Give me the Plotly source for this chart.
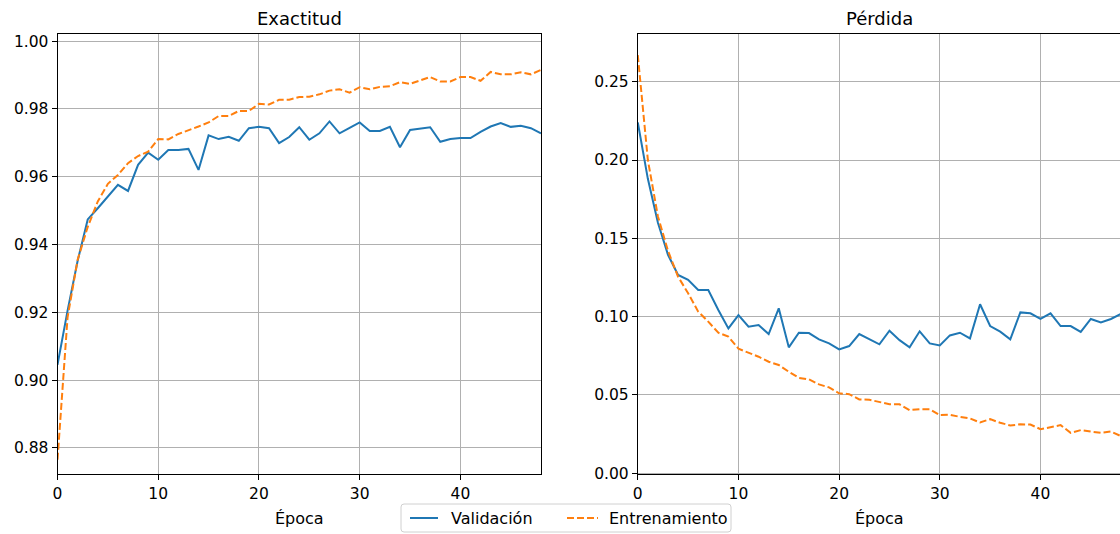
import plotly.graph_objects as go

# Training history per epoch
epochs = list(range(49))

val_acc = [0.9045, 0.9205, 0.9352, 0.9474, 0.9507, 0.9541, 0.9576, 0.9558, 0.9635, 0.9671,
           0.9650, 0.9679, 0.9679, 0.9682, 0.9620, 0.9722, 0.9711, 0.9718, 0.9706, 0.9743,
           0.9747, 0.9743, 0.9699, 0.9717, 0.9746, 0.9709, 0.9728, 0.9763, 0.9728, 0.9744,
           0.9760, 0.9735, 0.9735, 0.9747, 0.9687, 0.9738, 0.9741, 0.9746, 0.9703, 0.9711,
           0.9714, 0.9714, 0.9732, 0.9748, 0.9758, 0.9747, 0.9750, 0.9743, 0.9728]

train_acc = [0.8765, 0.9185, 0.9355, 0.9452, 0.9527, 0.9579, 0.9605, 0.9640, 0.9661, 0.9674,
             0.9711, 0.9710, 0.9726, 0.9736, 0.9748, 0.9760, 0.9779, 0.9779, 0.9794, 0.9794,
             0.9815, 0.9813, 0.9827, 0.9827, 0.9835, 0.9836, 0.9843, 0.9854, 0.9858, 0.9848,
             0.9864, 0.9858, 0.9865, 0.9867, 0.9879, 0.9874, 0.9883, 0.9894, 0.9881, 0.9881,
             0.9894, 0.9894, 0.9883, 0.9909, 0.9902, 0.9902, 0.9908, 0.9902, 0.9915]

val_loss = [0.2240, 0.1880, 0.1600, 0.1395, 0.1266, 0.1235, 0.1170, 0.1170, 0.1042, 0.0925,
            0.1010, 0.0936, 0.0946, 0.0889, 0.1053, 0.0804, 0.0897, 0.0895, 0.0855, 0.0829,
            0.0791, 0.0812, 0.0889, 0.0855, 0.0823, 0.0910, 0.0850, 0.0804, 0.0906, 0.0829,
            0.0816, 0.0880, 0.0897, 0.0861, 0.1079, 0.0940, 0.0904, 0.0855, 0.1027, 0.1021,
            0.0985, 0.1021, 0.0940, 0.0940, 0.0902, 0.0985, 0.0963, 0.0985, 0.1017]

train_loss = [0.2670, 0.2000, 0.1640, 0.1420, 0.1255, 0.1149, 0.1032, 0.0968, 0.0897, 0.0872,
              0.0795, 0.0769, 0.0744, 0.0712, 0.0691, 0.0648, 0.0609, 0.0599, 0.0567, 0.0548,
              0.0510, 0.0505, 0.0471, 0.0469, 0.0456, 0.0441, 0.0440, 0.0403, 0.0409, 0.0409,
              0.0371, 0.0373, 0.0360, 0.0350, 0.0324, 0.0345, 0.0322, 0.0305, 0.0312, 0.0311,
              0.0281, 0.0292, 0.0307, 0.0258, 0.0275, 0.0266, 0.0258, 0.0266, 0.0237]

titles = ["Exactitud", "Pérdida"]
x_label = "Época"
series_names = ["Validación", "Entrenamiento"]

BLUE = "#1f77b4"
ORANGE = "#ff7f0e"
FONT = "DejaVu Sans"
W, H = 1120, 534
DASH = "7px,3px"

fig = go.Figure()

val_line = dict(color=BLUE, width=2)
train_line = dict(color=ORANGE, width=2, dash=DASH)

fig.add_trace(go.Scatter(x=epochs, y=val_acc, mode="lines", line=val_line,
                         name=series_names[0], xaxis="x", yaxis="y"))
fig.add_trace(go.Scatter(x=epochs, y=train_acc, mode="lines", line=train_line,
                         name=series_names[1], xaxis="x", yaxis="y"))
fig.add_trace(go.Scatter(x=epochs, y=val_loss, mode="lines", line=val_line,
                         name=series_names[0], xaxis="x2", yaxis="y2"))
fig.add_trace(go.Scatter(x=epochs, y=train_loss, mode="lines", line=train_line,
                         name=series_names[1], xaxis="x2", yaxis="y2"))

y_dom = [(H - 474.3) / H, (H - 34) / H]
tickfont = dict(family=FONT, size=15.5, color="black")

common_axis = dict(showline=True, linecolor="black", linewidth=1,
                   ticks="outside", ticklen=5, tickwidth=1, tickcolor="black",
                   showgrid=True, gridcolor="#b0b0b0", gridwidth=1,
                   zeroline=False, tickfont=tickfont, automargin=False)

fig.update_layout(
    width=W, height=H,
    margin=dict(l=0, r=0, t=0, b=0, autoexpand=False),
    paper_bgcolor="white", plot_bgcolor="white",
    font=dict(family=FONT, color="black"),
    showlegend=False,
    xaxis=dict(domain=[57.5 / W, 541 / W], range=[0, 48], tickvals=[0, 10, 20, 30, 40],
               anchor="y", mirror=True, **common_axis),
    yaxis=dict(domain=y_dom, range=[0.8722, 1.0021],
               tickvals=[0.88, 0.90, 0.92, 0.94, 0.96, 0.98, 1.00], tickformat=".2f",
               anchor="x", mirror=True, **common_axis),
    xaxis2=dict(domain=[637.8 / W, 1.0], range=[0, 47.9], tickvals=[0, 10, 20, 30, 40],
                anchor="y2", mirror=True, **common_axis),
    yaxis2=dict(domain=y_dom, range=[-0.0007, 0.2805],
                tickvals=[0.00, 0.05, 0.10, 0.15, 0.20, 0.25], tickformat=".2f",
                anchor="x2", mirror=False, **common_axis),
)


def px(x):
    return x / W


def py(y):
    return (H - y) / H


# Shared legend box below the two panels (pixel layout converted to paper units)
shapes = []
x0, x1, y0, y1, r = 401, 731, 504, 532, 3
box_path = (f"M {px(x0 + r)},{py(y0)} L {px(x1 - r)},{py(y0)} "
            f"Q {px(x1)},{py(y0)} {px(x1)},{py(y0 + r)} L {px(x1)},{py(y1 - r)} "
            f"Q {px(x1)},{py(y1)} {px(x1 - r)},{py(y1)} L {px(x0 + r)},{py(y1)} "
            f"Q {px(x0)},{py(y1)} {px(x0)},{py(y1 - r)} L {px(x0)},{py(y0 + r)} "
            f"Q {px(x0)},{py(y0)} {px(x0 + r)},{py(y0)} Z")
shapes.append(dict(type="path", path=box_path, xref="paper", yref="paper",
                   line=dict(color="#d0d0d0", width=1), fillcolor="white"))
legend_y = 518
shapes.append(dict(type="line", xref="paper", yref="paper", x0=px(410), x1=px(438),
                   y0=py(legend_y), y1=py(legend_y), line=dict(color=BLUE, width=2)))
shapes.append(dict(type="line", xref="paper", yref="paper", x0=px(567), x1=px(598),
                   y0=py(legend_y), y1=py(legend_y), line=dict(color=ORANGE, width=2, dash=DASH)))

annotations = []
for tx, name in [(449, series_names[0]), (607, series_names[1])]:
    annotations.append(dict(text=name, x=px(tx), y=py(legend_y), xref="paper", yref="paper",
                            xanchor="left", yanchor="middle", showarrow=False,
                            font=dict(family=FONT, size=16, color="black")))
for cx, t in [((57.5 + 541) / 2, titles[0]), ((637.8 + 1121) / 2, titles[1])]:
    annotations.append(dict(text=t, x=px(cx), y=py(19), xref="paper", yref="paper",
                            xanchor="center", yanchor="middle", showarrow=False,
                            font=dict(family=FONT, size=18, color="black")))
for cx in [(57.5 + 541) / 2, (637.8 + 1121) / 2]:
    annotations.append(dict(text=x_label, x=px(cx), y=py(518), xref="paper", yref="paper",
                            xanchor="center", yanchor="middle", showarrow=False,
                            font=dict(family=FONT, size=16, color="black")))
fig.update_layout(shapes=shapes, annotations=annotations)

fig.write_html("out.html")
